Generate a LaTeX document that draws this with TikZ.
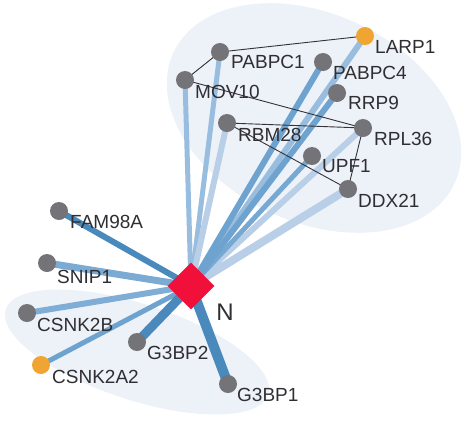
\documentclass[tikz,border=0pt]{standalone}
\usepackage{fontspec}
\setmainfont{Liberation Sans}
\usetikzlibrary{shapes.geometric}
\definecolor{blobfill}{HTML}{EDF1F8}
\definecolor{nodegray}{HTML}{737378}
\definecolor{nodeorange}{HTML}{F0A532}
\definecolor{nred}{HTML}{F0103A}
\definecolor{txt}{HTML}{2F2F33}
\definecolor{cA}{HTML}{4A89BC}
\definecolor{cB}{HTML}{6EA3CF}
\definecolor{cC}{HTML}{98BDDE}
\definecolor{cD}{HTML}{B9CFE7}
\definecolor{thin}{HTML}{333338}
\pgfdeclarelayer{blobs}
\pgfdeclarelayer{edges}
\pgfsetlayers{blobs,edges,main}
\begin{document}
\begin{tikzpicture}[x=1pt,y=-1pt,
  dot/.style={circle,fill=nodegray,minimum size=18pt,inner sep=0pt},
  odot/.style={dot,fill=nodeorange},
  lbl/.style={anchor=west,inner sep=0pt,text=txt,font=\fontsize{19}{22}\selectfont},
  blob/.style={fill=blobfill},
  link/.style={draw=thin,line width=0.9pt},
  spoke/.style={line width=#1}
]
\useasboundingbox (0,0) rectangle (474,424);
\begin{pgfonlayer}{blobs}
\fill[blob, rotate around={-25:(314,118)}] (314,118) ellipse (155 and 104);
\fill[blob, rotate around={-18:(137,352)}] (137,352) ellipse (138 and 48);
\end{pgfonlayer}

% nodes
\node[odot] (larp1) at (365,36) {};
\node[dot] (pabpc1) at (220,52) {};
\node[dot] (pabpc4) at (323,62) {};
\node[dot] (mov10) at (185,80) {};
\node[dot] (rrp9) at (337,93) {};
\node[dot] (rbm28) at (227,123) {};
\node[dot] (rpl36) at (363,128) {};
\node[dot] (upf1) at (312,156) {};
\node[dot] (ddx21) at (348,189) {};
\node[dot] (fam98a) at (59,211) {};
\node[dot] (snip1) at (47,263) {};
\node[dot] (csnk2b) at (27,313) {};
\node[odot] (csnk2a2) at (41,365) {};
\node[dot] (g3bp2) at (137,342) {};
\node[dot] (g3bp1) at (228,384) {};
\node[diamond,fill=nred,minimum width=47pt,minimum height=47pt,inner sep=0pt] (N) at (191,286) {};

% labels
\node[lbl] (llarp1) at (375,47) {LARP1};
\node[lbl] (lpabpc1) at (231,62) {PABPC1};
\node[lbl] (lpabpc4) at (333,73) {PABPC4};
\node[lbl] (lmov10) at (195,92) {MOV10};
\node[lbl] (lrrp9) at (348,103) {RRP9};
\node[lbl] (lrbm28) at (238,135) {RBM28};
\node[lbl] (lrpl36) at (374,139) {RPL36};
\node[lbl] (lupf1) at (322,166) {UPF1};
\node[lbl] (lddx21) at (358,201) {DDX21};
\node[lbl] (lfam98a) at (70,222) {FAM98A};
\node[lbl] (lsnip1) at (57,277) {SNIP1};
\node[lbl] (lcsnk2b) at (37,325) {CSNK2B};
\node[lbl] (lcsnk2a2) at (52,377) {CSNK2A2};
\node[lbl] (lg3bp2) at (147,353) {G3BP2};
\node[lbl] (lg3bp1) at (237,395) {G3BP1};
\node[text=txt,inner sep=0pt,font=\fontsize{24}{28}\selectfont] (lN) at (225,312) {N};

\begin{pgfonlayer}{edges}
\draw[spoke=5pt,cC] (N.center) -- (mov10.center);
\draw[spoke=5pt,cC] (N.center) -- (pabpc1.center);
\draw[spoke=6pt,cD] (N.center) -- (rbm28.center);
\draw[spoke=6pt,cC] (N.center) -- (larp1.center);
\draw[spoke=8pt,cD] (N.center) -- (ddx21.center);
\draw[spoke=6pt,cD] (N.center) -- (rpl36.center);
\draw[spoke=5pt,cB!80!cC] (N.center) -- (upf1.center);
\draw[spoke=6pt,cB] (N.center) -- (pabpc4.center);
\draw[spoke=6pt,cB] (N.center) -- (rrp9.center);
\draw[spoke=6pt,cA] (N.center) -- (fam98a.center);
\draw[spoke=7pt,cB!70!cC] (N.center) -- (snip1.center);
\draw[spoke=6pt,cB!60!cC] (N.center) -- (csnk2b.center);
\draw[spoke=5pt,cB] (N.center) -- (csnk2a2.center);
\draw[spoke=9pt,cA] (N.center) -- (g3bp2.center);
\draw[spoke=10pt,cA] (N.center) -- (g3bp1.center);
\draw[link] (pabpc1.center) -- (larp1.center);
\draw[link] (pabpc1.center) -- (mov10.center);
\draw[link] (mov10.center) -- (rpl36.center);
\draw[link] (rbm28.center) -- (rpl36.center);
\draw[link] (rbm28.center) -- (ddx21.center);
\draw[link] (rpl36.center) -- (ddx21.center);
\end{pgfonlayer}
\end{tikzpicture}
\end{document}
